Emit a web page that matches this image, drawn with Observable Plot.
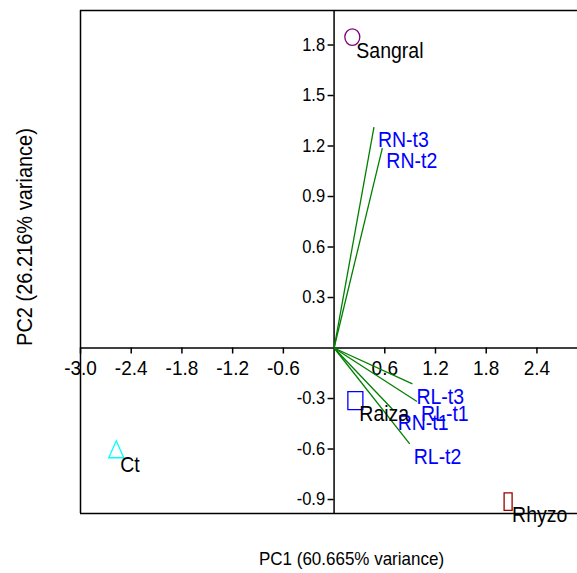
<!DOCTYPE html>
<html><head><meta charset="utf-8">
<script src="https://cdn.jsdelivr.net/npm/d3@7"></script>
<script src="https://cdn.jsdelivr.net/npm/@observablehq/plot@0.6"></script>
<style>body{margin:0;background:#fff;} #chart svg{display:block}</style>
</head><body><div id="chart"></div>
<script>
// Sample scores
const sampleNames = ["Sangral", "Ct", "Rhyzo", "Raiza"];
const samplePC1 = [0.216, -2.577, 2.059, 0.252];
const samplePC2 = [1.847, -0.612, -0.912, -0.312];
// Variable loadings
const loadingNames = ["RN-t3", "RN-t2", "RL-t3", "RL-t1", "RN-t1", "RL-t2"];
const loadingPC1 = [0.472, 0.571, 0.927, 0.981, 0.705, 0.895];
const loadingPC2 = [1.312, 1.187, -0.213, -0.318, -0.371, -0.569];
// Ticks & domains
const xTicks = [-3.0, -2.4, -1.8, -1.2, -0.6, 0.6, 1.2, 1.8, 2.4];
const yTicks = [-0.9, -0.6, -0.3, 0.3, 0.6, 0.9, 1.2, 1.5, 1.8];
const xDomain = [-3.0, 2.88];
const yDomain = [-0.983, 2.005];
const xTitle = "PC1 (60.665% variance)";
const yTitle = "PC2 (26.216% variance)";

const samples = sampleNames.map((name, i) => ({name, pc1: samplePC1[i], pc2: samplePC2[i]}));
const loadings = loadingNames.map((name, i) => ({name, pc1: loadingPC1[i], pc2: loadingPC2[i]}));

function ellipseSym(rx, ry) {
  const k = 0.5523;
  return {draw(c) {
    c.moveTo(rx, 0);
    c.bezierCurveTo(rx, ry * k, rx * k, ry, 0, ry);
    c.bezierCurveTo(-rx * k, ry, -rx, ry * k, -rx, 0);
    c.bezierCurveTo(-rx, -ry * k, -rx * k, -ry, 0, -ry);
    c.bezierCurveTo(rx * k, -ry, rx, -ry * k, rx, 0);
    c.closePath();
  }};
}
function rectSym(w, h) { return {draw(c) { c.rect(-w / 2, -h / 2, w, h); }}; }
function triSym(hw, top, bottom) { return {draw(c) { c.moveTo(0, -top); c.lineTo(hw, bottom); c.lineTo(-hw, bottom); c.closePath(); }}; }

const markerStyle = {
  Sangral: {symbol: ellipseSym(7.5, 8.3), stroke: "#800080"},
  Ct: {symbol: triSym(7.5, 10.3, 6.7), stroke: "#00ffff"},
  Rhyzo: {symbol: rectSym(8, 17.5), stroke: "#990000"},
  Raiza: {symbol: rectSym(15, 18), stroke: "#0000ff"}
};
const fmt = d => d.toFixed(1);

const chart = Plot.plot({
  width: 577, height: 573,
  marginLeft: 80, marginRight: 0, marginTop: 10, marginBottom: 60,
  x: {domain: xDomain},
  y: {domain: yDomain},
  style: {fontFamily: "'Liberation Sans', Arial, sans-serif", background: "white", color: "black"},
  marks: [
    Plot.ruleY([yDomain[1], yDomain[0]], {stroke: "black", strokeWidth: 1.5}),
    Plot.ruleX([xDomain[0]], {stroke: "black", strokeWidth: 1.5}),
    Plot.ruleY([0], {stroke: "black", strokeWidth: 1.5}),
    Plot.ruleX([0], {stroke: "black", strokeWidth: 1.5}),
    Plot.axisX(xTicks, {y: 0, anchor: "bottom", tickSize: 6, tickPadding: 6, tickFormat: fmt, fontSize: 19, strokeWidth: 1.5, label: null}),
    Plot.axisY(yTicks, {x: 0, anchor: "left", tickSize: 6, tickPadding: 3, tickFormat: fmt, fontSize: 16.5, strokeWidth: 1.5, label: null}),
    Plot.link(loadings, {x1: () => 0, y1: () => 0, x2: "pc1", y2: "pc2", stroke: "#008000", strokeWidth: 1.3}),
    Plot.text(loadings, {x: "pc1", y: "pc2", text: "name", textAnchor: "start", lineAnchor: "middle", dx: 4, dy: 13, fontSize: 19.5, fill: "#0000ff"}),
    ...samples.map(d => Plot.dot([d], {x: "pc1", y: "pc2", symbol: markerStyle[d.name].symbol, stroke: markerStyle[d.name].stroke, fill: "none", strokeWidth: 1.3})),
    Plot.text(samples, {x: "pc1", y: "pc2", text: "name", textAnchor: "start", lineAnchor: "middle", dx: 4, dy: 14, fontSize: 19.5, fill: "black"}),
    Plot.text([xTitle], {text: d => d, frameAnchor: "bottom", textAnchor: "middle", lineAnchor: "middle", dx: 22.5, dy: 45.6, fontSize: 17, fill: "black"}),
    Plot.text([yTitle], {text: d => d, frameAnchor: "left", textAnchor: "middle", rotate: -90, lineAnchor: "middle", dx: -56, dy: -25, fontSize: 20, fill: "black"})
  ]
});
// the reference's lettering is slightly taller than it is wide
d3.select(chart).selectAll("text").each(function () {
  const t = this.getAttribute("transform");
  if (t) this.setAttribute("transform", t + " scale(1,1.1)");
});
document.getElementById("chart").appendChild(chart);
</script>
</body></html>
